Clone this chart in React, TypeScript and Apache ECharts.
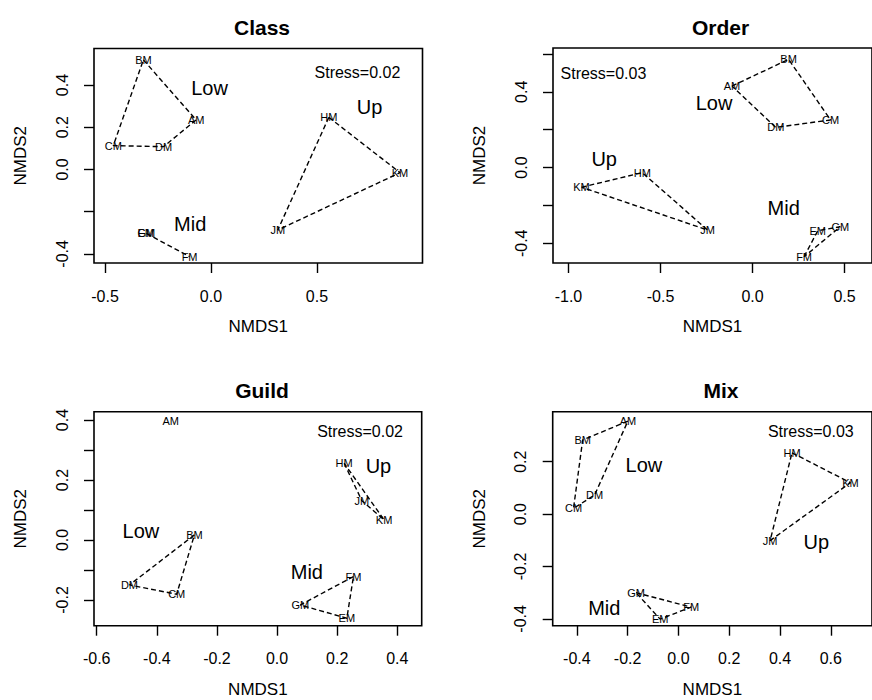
import React, { useEffect, useRef } from 'react';
import * as echarts from 'echarts';

// Site order for every panel
const sites = ['AM', 'BM', 'CM', 'DM', 'EM', 'FM', 'GM', 'HM', 'JM', 'KM'];

// Panel titles and stress values
const panelTitles = ['Class', 'Order', 'Guild', 'Mix'];
const stressTexts = ['Stress=0.02', 'Stress=0.03', 'Stress=0.02', 'Stress=0.03'];
const groupNames = ['Low', 'Up', 'Mid'];

// Class
const classX = [-0.070, -0.319, -0.461, -0.224, -0.308, -0.101, -0.305, 0.556, 0.315, 0.892];
const classY = [0.235, 0.519, 0.113, 0.108, -0.300, -0.413, -0.303, 0.247, -0.287, -0.015];
const classHulls = [['BM', 'AM', 'DM', 'CM'], ['HM', 'KM', 'JM'], ['GM', 'FM']];

// Order
const orderX = [-0.112, 0.196, 0.424, 0.126, 0.354, 0.280, 0.477, -0.599, -0.244, -0.929];
const orderY = [0.430, 0.571, 0.251, 0.212, -0.334, -0.471, -0.312, -0.027, -0.330, -0.104];
const orderHulls = [['AM', 'BM', 'CM', 'DM'], ['KM', 'HM', 'JM'], ['FM', 'EM', 'GM']];

// Guild
const guildX = [-0.354, -0.275, -0.334, -0.491, 0.232, 0.254, 0.077, 0.223, 0.282, 0.356];
const guildY = [0.397, 0.017, -0.181, -0.150, -0.261, -0.122, -0.217, 0.256, 0.131, 0.067];
const guildHulls = [['BM', 'DM', 'CM'], ['HM', 'JM', 'KM'], ['FM', 'GM', 'EM']];

// Mix
const mixX = [-0.199, -0.377, -0.413, -0.330, -0.072, 0.050, -0.167, 0.447, 0.361, 0.677];
const mixY = [0.355, 0.283, 0.022, 0.073, -0.401, -0.355, -0.300, 0.234, -0.101, 0.120];
const mixHulls = [['AM', 'BM', 'CM', 'DM'], ['HM', 'KM', 'JM'], ['GM', 'FM', 'EM']];

// Tick values and labelled ticks
const classXTicks = [-0.5, 0, 0.5];
const classYTicks = [-0.4, -0.2, 0, 0.2, 0.4];
const classYLabels = [-0.4, 0, 0.2, 0.4];
const orderXTicks = [-1, -0.5, 0, 0.5];
const orderYTicks = [-0.4, -0.2, 0, 0.2, 0.4, 0.6];
const orderYLabels = [-0.4, 0, 0.4];
const guildXTicks = [-0.6, -0.4, -0.2, 0, 0.2, 0.4];
const guildYTicks = [-0.2, -0.1, 0, 0.1, 0.2, 0.3, 0.4];
const guildYLabels = [-0.2, 0, 0.2, 0.4];
const mixXTicks = [-0.4, -0.2, 0, 0.2, 0.4, 0.6];
const mixYTicks = [-0.4, -0.2, 0, 0.2];

// Annotation anchor positions (data coords): Low, Up, Mid, Stress
const classNotes = [[-0.007, 0.388], [0.748, 0.294], [-0.098, -0.258], [0.691, 0.457]];
const orderNotes = [[-0.209, 0.339], [-0.806, 0.043], [0.169, -0.215], [-0.81, 0.497]];
const guildNotes = [[-0.453, 0.031], [0.337, 0.247], [0.099, -0.106], [0.276, 0.363]];
const mixNotes = [[-0.136, 0.187], [0.543, -0.105], [-0.292, -0.359], [0.521, 0.317]];

const FONT = '"Liberation Sans", Arial, Helvetica, sans-serif';

type Panel = {
  xs: number[]; ys: number[]; hulls: string[][];
  xTicks: number[]; yTicks: number[]; xLabels: number[]; yLabels: number[];
  notes: number[][];
  grid: { left: number; top: number; width: number; height: number };
  xRange: [number, number]; yRange: [number, number];
  titleX: number; titleY: number;
};

const panels: Panel[] = [
  {
    xs: classX, ys: classY, hulls: classHulls,
    xTicks: classXTicks, yTicks: classYTicks, xLabels: classXTicks, yLabels: classYLabels,
    notes: classNotes,
    grid: { left: 94, top: 48.5, width: 328.5, height: 214.5 },
    xRange: [-0.552, 0.998], yRange: [-0.443, 0.573],
    titleX: 257, titleY: 12,
  },
  {
    xs: orderX, ys: orderY, hulls: orderHulls,
    xTicks: orderXTicks, yTicks: orderYTicks, xLabels: orderXTicks, yLabels: orderYLabels,
    notes: orderNotes,
    grid: { left: 553, top: 48, width: 329, height: 215 },
    xRange: [-1.084, 0.649], yRange: [-0.504, 0.631],
    titleX: 715.5, titleY: 12,
  },
  {
    xs: guildX, ys: guildY, hulls: guildHulls,
    xTicks: guildXTicks, yTicks: guildYTicks, xLabels: guildXTicks, yLabels: guildYLabels,
    notes: guildNotes,
    grid: { left: 94, top: 411.7, width: 327.7, height: 214 },
    xRange: [-0.609, 0.481], yRange: [-0.286, 0.428],
    titleX: 257, titleY: 374.5,
  },
  {
    xs: mixX, ys: mixY, hulls: mixHulls,
    xTicks: mixXTicks, yTicks: mixYTicks, xLabels: mixXTicks, yLabels: mixYTicks,
    notes: mixNotes,
    grid: { left: 552.7, top: 411.7, width: 329, height: 214 },
    xRange: [-0.495, 0.762], yRange: [-0.426, 0.391],
    titleX: 716, titleY: 374.5,
  },
];

const plainText = {
  color: '#000',
  fontFamily: FONT,
  textBorderWidth: 0,
  textBorderColor: 'transparent',
  textShadowBlur: 0,
  opacity: 1,
};

function buildOption() {
  const grids: any[] = [];
  const xAxes: any[] = [];
  const yAxes: any[] = [];
  const series: any[] = [];
  const titles: any[] = [];

  panels.forEach((p, i) => {
    grids.push({
      ...p.grid,
      show: true,
      borderColor: '#000',
      borderWidth: 1.6,
      backgroundColor: 'transparent',
      containLabel: false,
    });
    const common = {
      type: 'value',
      gridIndex: i,
      nameLocation: 'middle',
      nameTextStyle: { fontSize: 17, color: '#000', fontFamily: FONT },
      axisLine: { show: false, onZero: false },
      splitLine: { show: false },
    };
    xAxes.push({
      ...common,
      min: p.xRange[0],
      max: p.xRange[1],
      name: 'NMDS1',
      nameGap: 55,
      axisTick: {
        show: true, inside: false, length: 10, customValues: p.xTicks,
        lineStyle: { color: '#000', width: 1.4 },
      },
      axisLabel: {
        show: true, margin: 25, customValues: p.xLabels,
        fontSize: 16, color: '#000', fontFamily: FONT,
        formatter: (v: number) => v.toFixed(1),
      },
    });
    yAxes.push({
      ...common,
      min: p.yRange[0],
      max: p.yRange[1],
      name: 'NMDS2',
      nameGap: 65,
      axisTick: {
        show: true, inside: false, length: 10, customValues: p.yTicks,
        lineStyle: { color: '#000', width: 1.4 },
      },
      axisLabel: {
        show: true, margin: 24, rotate: 90, customValues: p.yLabels,
        fontSize: 16, color: '#000', fontFamily: FONT,
        formatter: (v: number) => v.toFixed(1),
      },
    });
    titles.push({
      text: panelTitles[i],
      left: p.titleX,
      top: p.titleY,
      textAlign: 'center',
      textStyle: { fontSize: 21, fontWeight: 'bold', color: '#000', fontFamily: FONT },
    });

    // hull lines
    p.hulls.forEach((hull) => {
      const pts = hull.map((s) => {
        const k = sites.indexOf(s);
        return [p.xs[k], p.ys[k]];
      });
      if (pts.length > 2) pts.push(pts[0]);
      series.push({
        type: 'line',
        xAxisIndex: i,
        yAxisIndex: i,
        data: pts,
        symbol: 'none',
        silent: true,
        lineStyle: { color: '#000', width: 1.4, type: [5, 3] },
        z: 2,
      });
    });

    // site labels
    series.push({
      type: 'scatter',
      xAxisIndex: i,
      yAxisIndex: i,
      symbolSize: 1,
      itemStyle: { color: 'rgba(0,0,0,0)' },
      data: sites.map((s, k) => ({ name: s, value: [p.xs[k], p.ys[k]] })),
      label: {
        show: true, position: 'inside', formatter: '{b}',
        fontSize: 11, ...plainText,
      },
      z: 3,
    });

    // group annotations and stress
    const noteTexts = [...groupNames, stressTexts[i]];
    series.push({
      type: 'scatter',
      xAxisIndex: i,
      yAxisIndex: i,
      symbolSize: 1,
      itemStyle: { color: 'rgba(0,0,0,0)' },
      data: noteTexts.map((t, k) => ({
        name: t,
        value: p.notes[k],
        label: { fontSize: k === 3 ? 16 : 20 },
      })),
      label: {
        show: true, position: 'inside', formatter: '{b}',
        ...plainText,
      },
      z: 3,
    });
  });

  return {
    animation: false,
    backgroundColor: '#fff',
    title: titles,
    grid: grids,
    xAxis: xAxes,
    yAxis: yAxes,
    series,
  };
}

export default function App() {
  const ref = useRef<HTMLDivElement>(null);
  useEffect(() => {
    if (!ref.current) return;
    const chart = echarts.init(ref.current, undefined, { renderer: 'svg' });
    chart.setOption(buildOption() as any);
    return () => chart.dispose();
  }, []);
  return (
    <div
      ref={ref}
      style={{ position: 'absolute', left: 0, top: 0, width: 872, height: 700, background: '#fff' }}
    />
  );
}
